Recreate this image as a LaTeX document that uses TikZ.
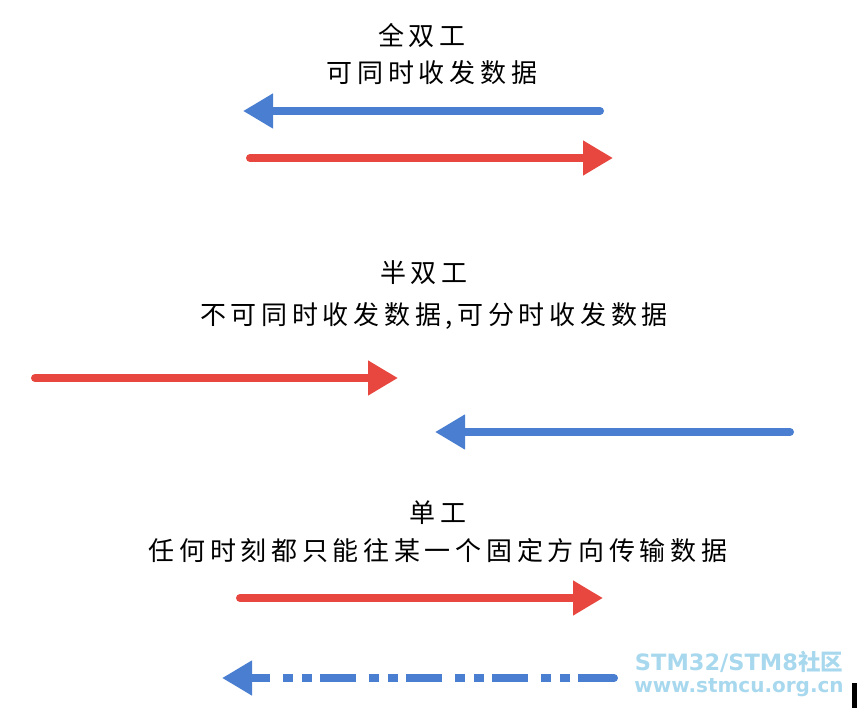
\documentclass[tikz,border=0pt]{standalone}
\usepackage{fontspec}
\newfontfamily\cjk[LetterSpace=18]{Noto Sans CJK SC}
\newfontfamily\wm{DejaVu Sans}
\newfontfamily\wmc{Noto Sans CJK SC}
\usetikzlibrary{arrows.meta}
\definecolor{ared}{HTML}{E8473F}
\definecolor{ablue}{HTML}{4A7ED0}
\definecolor{wmblue}{HTML}{A8D8EE}
\tikzset{
  lbl/.style={font=\cjk\fontsize{26}{30}\selectfont, align=center, inner sep=0pt},
  arr/.style={line width=8pt, line cap=round, -{Triangle[length=30pt,width=33pt]}},
}
\begin{document}
\begin{tikzpicture}[x=1pt,y=-1pt]
\useasboundingbox (0,0) rectangle (859,708);
\node[lbl] (t1) at (422,36) {全双工};
\node[lbl] (t2) at (432,73) {可同时收发数据};
\coordinate (a1s) at (600,111); \coordinate (a1e) at (243,111);
\draw[arr, ablue] (a1s) -- (a1e);
\coordinate (a2s) at (250,158); \coordinate (a2e) at (613,158);
\draw[arr, ared] (a2s) -- (a2e);

\node[lbl] (h1) at (424,273) {半双工};
\node[lbl] (h2) at (434,316) {不可同时收发数据,可分时收发数据};
\coordinate (b1s) at (35,378); \coordinate (b1e) at (398,378);
\draw[arr, ared] (b1s) -- (b1e);
\coordinate (b2s) at (790,432); \coordinate (b2e) at (435,432);
\draw[arr, ablue] (b2s) -- (b2e);

\node[lbl] (s1) at (438,513) {单工};
\node[lbl] (s2) at (438,551) {任何时刻都只能往某一个固定方向传输数据};
\coordinate (c1s) at (240,598); \coordinate (c1e) at (603,598);
\draw[arr, ared] (c1s) -- (c1e);
\coordinate (c2s) at (614,678); \coordinate (c2e) at (222,678);
\draw[line width=8pt, ablue, line cap=butt, dash pattern=on 36pt off 8pt on 10pt off 9pt on 10pt off 13pt, -{Triangle[length=30pt,width=33pt]}] (c2s) -- (c2e);
\fill[ablue] (c2s) circle (4pt);

\node[font=\wm\bfseries\fontsize{22.5}{24}\selectfont, text=wmblue, inner sep=0pt] (w1) at (739,662) {STM32/STM8\wmc 社区};
\node[font=\wm\bfseries\fontsize{20}{22}\selectfont, text=wmblue, inner sep=0pt] (w2) at (739,688) {www.stmcu.org.cn};
\fill[black] (852,683) rectangle (857,708);
\end{tikzpicture}
\end{document}
